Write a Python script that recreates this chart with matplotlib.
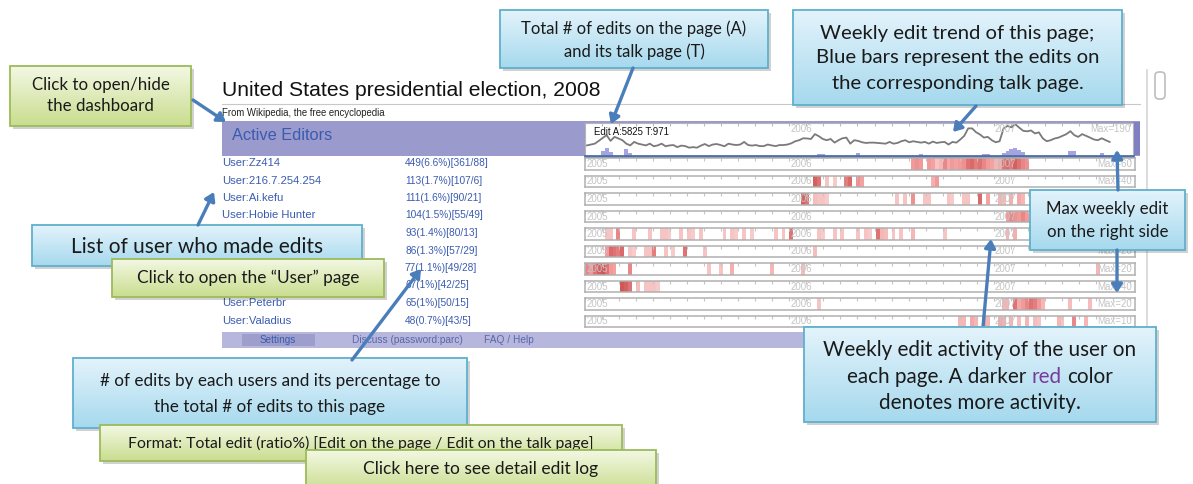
import numpy as np
import matplotlib
matplotlib.use("Agg")
import matplotlib.pyplot as plt
from matplotlib.patches import Rectangle, FancyBboxPatch, FancyArrowPatch
from matplotlib.colors import LinearSegmentedColormap

W, H = 1193, 484
PX_WEEK = 3.93          # pixels per week in the timelines

# ---------------- data ----------------
page_title = "United States presidential election, 2008"
total_label = "Edit A:5825 T:971"

# weekly edits of the article (week 0 = first week of 2005)
trend_edits = [61, 66, 71, 87, 104, 120, 87, 110, 101, 91, 71, 61, 81, 71, 66, 61, 71, 56, 61, 71,
               56, 61, 63, 51, 60, 57, 48, 51, 48, 60, 69, 57, 66, 69, 63, 56, 71, 66, 63, 66,
               81, 63, 60, 63, 57, 57, 66, 61, 57, 63, 63, 66, 73, 85, 91, 102, 101, 98, 126, 114,
               98, 91, 98, 77, 91, 102, 106, 71, 91, 87, 79, 75, 77, 77, 75, 73, 71, 81, 71, 75,
               85, 91, 79, 85, 81, 77, 81, 71, 83, 75, 79, 81, 66, 81, 77, 95, 116, 159, 159, 137,
               124, 106, 110, 91, 79, 85, 159, 173, 165, 183, 163, 145, 142, 147, 130, 136, 101, 85, 91, 101,
               106, 116, 126, 143, 120, 110, 126, 116, 106, 95, 91, 102, 91, 81]
trend_max = 190

# weekly edits of the talk page (blue bars)
talk_weeks = [4, 5, 6, 10, 11, 59, 60, 69, 85, 101, 102, 106, 107, 108, 109, 110, 111, 123, 124, 131]
talk_edits = [30, 44, 25, 40, 20, 10, 10, 15, 12, 12, 10, 20, 30, 40, 45, 35, 25, 30, 30, 15]

users = ["User:Zz414", "User:216.7.254.254", "User:Ai.kefu", "User:Hobie Hunter",
         "", "", "", "", "User:Peterbr", "User:Valadius"]
user_stats = ["449(6.6%)[361/88]", "113(1.7%)[107/6]", "111(1.6%)[90/21]", "104(1.5%)[55/49]",
              "93(1.4%)[80/13]", "86(1.3%)[57/29]", "77(1.1%)[49/28]", "67(1%)[42/25]",
              "65(1%)[50/15]", "48(0.7%)[43/5]"]
# max weekly edits per user (hidden under a callout where None)
user_max = [60, 40, None, None, None, 20, 20, 40, 20, 10]
years = ["2005", "2006", "2007"]

# weekly activity per user: (week, relative intensity)
user_activity = [
    [(83, .5), (84, .55), (85, .5), (87, .5), (88, .45), (89, .2), (90, .3), (91, .6), (92, .4), (93, .5),
     (94, .45), (95, .5), (96, .55), (97, .7), (98, .75), (99, .65), (100, .7), (101, .6), (102, .5),
     (103, .45), (104, .3), (105, .4), (106, .7), (107, .75), (108, .65), (109, .8), (110, .7), (111, .6),
     (112, .55)],
    [(58, .8), (59, .7), (61, .2), (63, .15), (66, .65), (67, .75), (69, .55), (70, .45), (88, .35), (89, .5)],
    [(55, .8), (56, .7), (58, .25), (59, .2), (60, .2), (61, .15), (79, .2), (81, .2), (83, .55), (86, .2),
     (87, .2), (92, .2), (93, .15), (96, .2), (97, .2), (100, .75), (102, .45), (105, .3), (106, .25),
     (108, .35), (110, .4), (111, .3)],
    [(107, .5), (108, .6), (109, .55), (110, .5), (111, .6), (112, .5)],
    [(5, .2), (6, .2), (8, .6), (12, .2), (16, .2), (19, .2), (20, .2), (21, .15), (24, .2), (26, .2),
     (27, .15), (29, .2), (35, .2), (37, .2), (38, .15), (40, .2), (42, .15), (48, .2), (50, .2), (52, .7),
     (59, .2), (60, .15), (63, .2), (65, .2), (69, .2), (71, .2), (72, .15), (74, .7), (75, .3), (76, .25),
     (78, .2), (80, .2), (83, .3), (91, .2), (107, .3), (109, .35)],
    [(5, .5), (6, .75), (7, .7), (8, .65), (9, .75), (11, .2), (12, .15), (15, .2), (16, .2), (17, .65),
     (20, .2), (22, .15), (25, .7), (30, .2), (58, .25)],
    [(0, .6), (1, .5), (2, .7), (3, .8), (4, .85), (5, .7), (6, .5), (7, .45), (11, .6), (31, .2),
     (34, .2), (37, .35), (47, .3), (55, .25), (130, .3)],
    [(9, .85), (10, .8), (11, .7), (13, .25), (15, .2), (16, .2), (17, .2), (18, .15)],
    [(59, .2), (106, .3), (107, .3), (109, .7), (110, .4), (111, .5), (112, .6), (113, .7), (114, .65),
     (115, .5), (116, .3), (123, .25), (128, .25)],
    [(95, .3), (96, .3), (98, .4), (99, .3), (101, .45), (102, .3), (105, .4), (106, .35), (108, .3),
     (110, .25), (112, .3), (114, .25), (115, .2), (120, .3), (121, .2), (124, .6), (127, .3)],
]

# ---------------- figure ----------------
fig = plt.figure(figsize=(W / 100, H / 100), dpi=100)
fig.patch.set_facecolor("white")


def px_axes(x0, y0, x1, y1):
    return fig.add_axes([x0 / W, 1 - y1 / H, (x1 - x0) / W, (y1 - y0) / H])


def full_axes():
    a = fig.add_axes([0, 0, 1, 1])
    a.set_xlim(0, W)
    a.set_ylim(H, 0)
    a.axis("off")
    return a


sans = "Liberation Sans"
call = "Lato"
link = "#3a5bb0"
faint = "#c4c4c4"

# ---------------- page (screenshot) ----------------
bg = full_axes()
bg.text(222, 96, page_title, fontsize=15.2, family=sans, color="#111111", va="baseline")
bg.plot([222, 1140], [104, 104], color="#c8c8c8", lw=0.8)
bg.text(222, 113, "From Wikipedia, the free encyclopedia", fontsize=6.9, family=sans, color="#222222",
        va="center")
bg.add_patch(Rectangle((222, 121), 918, 35, facecolor="#9a9acc", edgecolor="none"))
bg.add_patch(Rectangle((1133, 122), 7, 33, facecolor="#7f7fc2", edgecolor="none", zorder=5))
bg.text(232, 135, "Active Editors", fontsize=11.8, family=sans, color=link, va="center")

row_y = [164 + 17.5 * i for i in range(10)]
for i in range(10):
    if users[i]:
        bg.text(222, row_y[i] - 1, users[i], fontsize=8.1, family=sans, color=link, va="center")
    bg.text(405, row_y[i] - 1, user_stats[i], fontsize=7.3, family=sans, color=link, va="center")

# bottom menu
bg.add_patch(Rectangle((222, 332), 918, 16, facecolor="#b7b7de", edgecolor="none"))
bg.add_patch(Rectangle((242, 334), 73, 12, facecolor="#9e9ecc", edgecolor="none"))
bg.text(278, 340, "Settings", fontsize=7.2, family=sans, color=link, ha="center", va="center")
bg.text(352, 340, "Discuss (password:parc)", fontsize=7.3, family=sans, color="#5a66a8", va="center")
bg.text(484, 340, "FAQ / Help", fontsize=7.3, family=sans, color="#5a66a8", va="center")

# scrollbar on the right
bg.plot([1147, 1147], [70, 346], color="#d5d5d5", lw=1.2)
bg.add_patch(FancyBboxPatch((1155, 72), 10, 27, boxstyle="round,pad=0,rounding_size=4",
                            facecolor="white", edgecolor="#bdbdbd", lw=1.2))

# ---------------- trend sparkline ----------------
sp = px_axes(585, 123, 1133, 156)
weeks = np.arange(len(trend_edits))
sp.plot(weeks + 0.5, trend_edits, color="#7a7a7a", lw=1.3)
sp.bar(talk_weeks, talk_edits, width=1, align="edge", color="#a4a4e0")
sp.set_xlim(0, 548 / PX_WEEK)
sp.set_ylim(0, trend_max)
sp.set_xticks(np.arange(0, 140, 52 / 12))
sp.tick_params(axis="x", direction="in", top=True, bottom=False, length=2.5, color="#bbbbbb",
               labelbottom=False)
sp.set_yticks([])
for s in ["top", "left", "right"]:
    sp.spines[s].set_color("#b5b5b5")
sp.spines["bottom"].set_color("#4f6fa8")
sp.spines["bottom"].set_linewidth(2)
for k, yr in enumerate(years[1:], start=1):
    sp.text(52 * k + 0.3, 0.82, yr, transform=sp.get_xaxis_transform(), fontsize=7, family=sans,
            color=faint, va="center")
sp.text(2.3, 0.72, total_label, transform=sp.get_xaxis_transform(), fontsize=6.9, family=sans,
        color="#111111", va="center")
sp.text(0.995, 0.82, "Max=%d" % trend_max, transform=sp.transAxes, fontsize=7, family=sans,
        color=faint, ha="right", va="center")

# ---------------- user timelines ----------------
reds = LinearSegmentedColormap.from_list("reds", ["#fbe0e0", "#f29a9a", "#c23a3a"])
for i in range(10):
    ax = px_axes(585, row_y[i] - 5.8, 1135, row_y[i] + 5.8)
    wk = [a for a, b in user_activity[i]]
    lv = [b for a, b in user_activity[i]]
    ax.bar(wk, [1] * len(wk), width=1, align="edge", color=reds(lv), linewidth=0)
    ax.set_xlim(0, 550 / PX_WEEK)
    ax.set_ylim(0, 1)
    ax.set_xticks(np.arange(0, 140, 52 / 12))
    ax.tick_params(axis="x", direction="in", top=True, bottom=False, length=2, color=faint,
                   labelbottom=False)
    ax.set_yticks([])
    for s in ax.spines.values():
        s.set_color("#b0b0b0")
        s.set_linewidth(1.1)
    for k, yr in enumerate(years):
        ax.text(52 * k + 0.3, 0.5, yr, fontsize=7, family=sans, color=faint, va="center")
    if user_max[i] is not None:
        ax.text(0.995, 0.5, "Max=%d" % user_max[i], transform=ax.transAxes, fontsize=7, family=sans,
                color=faint, ha="right", va="center")

# ---------------- callouts ----------------
ov = full_axes()
ov.set_zorder(10)
ov.patch.set_alpha(0)

blue_cm = LinearSegmentedColormap.from_list("bl", ["#e3f3fb", "#a6d9ee"])
green_cm = LinearSegmentedColormap.from_list("gr", ["#f3f8e3", "#c9dd8e"])
grad = np.linspace(0, 1, 64).reshape(-1, 1)


def callout(x0, y0, x1, y1, kind, z):
    cm, ec = (blue_cm, "#5fb0cc") if kind == "b" else (green_cm, "#9cbb5a")
    ov.add_patch(Rectangle((x0 + 3, y0 + 3), x1 - x0, y1 - y0, facecolor="#000000", alpha=0.18,
                           edgecolor="none", zorder=z))
    box = Rectangle((x0, y0), x1 - x0, y1 - y0, facecolor="none", edgecolor=ec, lw=1.3, zorder=z + 0.2)
    ov.add_patch(box)
    im = ov.imshow(grad, cmap=cm, extent=[x0, x1, y1, y0], aspect="auto", zorder=z + 0.1)
    im.set_clip_path(box)


def arrow(p0, p1):
    ov.add_patch(FancyArrowPatch(p0, p1, arrowstyle="-|>,head_length=5,head_width=3.2",
                                 color="#4a7ebb", lw=2.4, zorder=30, shrinkA=0, shrinkB=0))


boxes = [
    (10, 66, 191, 126, "g", ["Click to open/hide", "the dashboard"], 12.2, [85, 106]),
    (500, 10, 768, 68, "b", ["Total # of edits on the page (A)", "and its talk page (T)"], 12, [29, 52]),
    (793, 10, 1122, 105, "b", ["Weekly edit trend of this page;", "Blue bars represent the edits on",
                               "the corresponding talk page."], 14.6, [33, 58, 83]),
    (32, 225, 362, 266, "b", ["List of user who made edits"], 15, [247]),
    (112, 259, 384, 297, "g", ["Click to open the \u201cUser\u201d page"], 12.4, [278]),
    (1030, 190, 1185, 250, "b", ["Max weekly edit", "on the right side"], 12.2, [209, 232]),
    (73, 358, 467, 428, "b", ["# of edits by each users and its percentage to",
                              "the total # of edits to this page"], 12.3, [381, 407]),
    (100, 425, 622, 461, "g", ["Format: Total edit (ratio%) [Edit on the page / Edit on the talk page]"],
     11.3, [443]),
    (306, 450, 656, 492, "g", ["Click here to see detail edit log"], 12.5, [469]),
    (804, 327, 1156, 422, "b", ["Weekly edit activity of the user on", None, "denotes more activity."],
     14.9, [350, 377, 403]),
]

for n, (x0, y0, x1, y1, kind, lines, fs, ys) in enumerate(boxes):
    z = 12 + 2 * n
    callout(x0, y0, x1, y1, kind, z)
    for ln, yy in zip(lines, ys):
        if ln is None:
            continue
        ov.text((x0 + x1) / 2, yy, ln, fontsize=fs, family=call, color="#1a1a1a", ha="center",
                va="center", zorder=z + 0.5)

# mixed colour line in the last callout
fs_last = boxes[-1][6]
zl = 12 + 2 * (len(boxes) - 1) + 0.5
t1 = ov.text(980, 377, "each page. A darker", fontsize=fs_last, family=call, color="#1a1a1a",
             va="center", zorder=zl)
t2 = ov.annotate("red", xy=(1, 0), xycoords=t1, xytext=(3.6, 0), textcoords="offset points",
                 va="bottom", fontsize=fs_last, family=call, color="#7a3a9a", zorder=zl)
t3 = ov.annotate("color", xy=(1, 0), xycoords=t2, xytext=(3.6, 0), textcoords="offset points",
                 va="bottom", fontsize=fs_last, family=call, color="#1a1a1a", zorder=zl)
fig.canvas.draw()
e1 = t1.get_window_extent()
e3 = t3.get_window_extent()
t1.set_x(980 - (e3.x1 - e1.x0) / 2)

arrow((193, 100), (226, 122))
arrow((633, 68), (611, 124))
arrow((976, 106), (953, 132))
arrow((198, 225), (214, 192))
arrow((1118, 190), (1117, 150))
arrow((1117, 250), (1117, 293))
arrow((352, 360), (421, 269))
arrow((983, 327), (991, 239))

fig.savefig("out.png", dpi=100)
